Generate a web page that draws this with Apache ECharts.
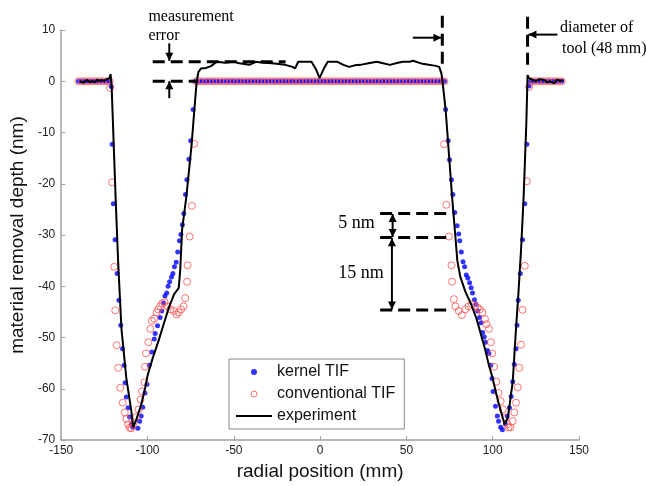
<!DOCTYPE html>
<html>
<head>
<meta charset="utf-8">
<script src="https://cdn.jsdelivr.net/npm/echarts@6/dist/echarts.min.js"></script>
<style>
  html, body { margin: 0; padding: 0; background: #fff; }
  #main { width: 646px; height: 486px; }
</style>
</head>
<body>
<div id="main"></div>
<script>
// flat parts (depth 0) where both simulations sit on the axis
var flatLeftX = [-140, -138, -136, -134, -132, -130, -128, -126, -124, -122];
var flatMidX = [-72, -70, -68, -66, -64, -62, -60, -58, -56, -54, -52, -50, -48, -46, -44, -42, -40, -38, -36, -34, -32, -30, -28, -26, -24, -22, -20, -18, -16, -14, -12, -10, -8, -6, -4, -2, 0,
  2, 4, 6, 8, 10, 12, 14, 16, 18, 20, 22, 24, 26, 28, 30, 32, 34, 36, 38, 40, 42, 44, 46, 48, 50, 52, 54, 56, 58, 60, 62, 64, 66, 68, 70, 72];
var flatRightX = [122, 124, 126, 128, 130, 132, 134, 136, 138, 140];

// kernel TIF inside the two grooves
var kernelV = [
  [-121, -1], [-120.5, -12.3], [-119.8, -23.9], [-118.8, -30.9], [-117.6, -37.5], [-116.6, -42.7], [-115.5, -47.6],
  [-114.5, -52.2], [-113.6, -55.4], [-113, -58.8], [-112.3, -61.6], [-111.3, -63.7], [-110.4, -65.5], [-109.4, -66.9],
  [-108.5, -67.5], [-105.6, -67.7], [-104.6, -66.3], [-103.7, -65.3], [-102.8, -63.6], [-101.5, -60.8], [-100.3, -59.1],
  [-99, -55.4], [-97.5, -52.8], [-96.1, -50.3], [-95.6, -49.2], [-94.2, -47.7], [-92.7, -46.1], [-91.8, -44.8],
  [-90.8, -43.3], [-89.9, -41.9], [-88.9, -41.3], [-88.1, -40], [-87.2, -39.1], [-86.1, -38.2], [-85.3, -37.5],
  [-84.4, -36.2], [-83.4, -35.3], [-82.5, -33.3], [-81.5, -31.1], [-80.7, -29.9], [-79.8, -28], [-79, -25.8],
  [-78, -22.1], [-77.2, -19.2], [-76, -15.2], [-75, -11.6], [-73.6, -5.5],
  [72.7, -5.5], [74.2, -11.6], [75, -15.3], [76.1, -19.2], [76.9, -22.1], [78, -25.6], [79.4, -28.2], [80.3, -29.8],
  [80.9, -31.1], [81.8, -33.3], [82.8, -35.2], [83.7, -36.2], [84.7, -37.8], [85.6, -38.4], [86.6, -39.3], [87.5, -40.3],
  [88.3, -41.3], [89.4, -42.6], [90.2, -43.5], [91.3, -44.8], [92.3, -46.1], [93.2, -47.1], [94.2, -49], [95.1, -49.9],
  [95.9, -50.9], [97, -52.5], [97.8, -53.1], [98.9, -55.4], [99.6, -58], [100.2, -60.5], [101.6, -63.4], [102.7, -65.3],
  [103.4, -66.3], [104.6, -67.5], [105.6, -68], [107.3, -66.8], [108.4, -65.3], [109.7, -63.7], [110.7, -61.5],
  [111.6, -58.6], [112.5, -55.2], [113.5, -52.2], [114.1, -47.6], [114.8, -42.7], [116, -37.5], [117.3, -30.9],
  [118.6, -23.9], [119.8, -12.3], [121.1, -0.9]
];

// conventional TIF inside the two grooves
var conventionalV = [
  [-121.7, -1.3], [-120.5, -19.7], [-119.3, -36.2], [-118.7, -44.7], [-117.9, -51.5], [-117, -55.9], [-115.8, -59.8],
  [-114.4, -62.7], [-113.2, -64.6], [-112.3, -65.9], [-111.3, -66.9], [-110.4, -67.6], [-109.4, -67.7], [-108.4, -66.9],
  [-106.6, -65.5], [-105.2, -64], [-104.1, -62.1], [-103.2, -60.5], [-101.8, -58.7], [-101.5, -55.7], [-100.9, -53.1],
  [-99.5, -50.9], [-98.4, -48.3], [-97.5, -46.7], [-96.1, -46.3], [-94.8, -45.1], [-93.8, -44.5], [-92.7, -43.9],
  [-91.4, -43.3], [-90.1, -43.1], [-88.5, -43.9], [-86.7, -44.5], [-84.7, -44.8], [-83.2, -45.5], [-81.9, -45.1],
  [-80.6, -44.5], [-79.1, -43.9], [-78.2, -42.3], [-77.1, -39.1], [-76.8, -35.9], [-75.6, -30.3], [-74.3, -24.3],
  [-73, -12.2],
  [71.8, -12.3], [73.1, -24.1], [74.6, -30.3], [76.1, -35.9], [76.5, -39.1], [77.5, -42.5], [78.4, -43.9], [80.3, -44.8],
  [82.2, -45.6], [84.1, -44.5], [86, -43.9], [87.9, -43.5], [89.8, -43.9], [91.3, -44.2], [92.6, -44.5], [94, -45.1],
  [95.5, -46.4], [96.4, -47.4], [97.8, -48.3], [98.9, -50.9], [99.7, -53.1], [100.8, -55.7], [102.1, -58.6],
  [103.4, -60.8], [104.6, -62.4], [105.9, -64], [107.3, -65.6], [108.4, -66.9], [109.2, -67.5], [110.3, -67.5],
  [111.6, -66.3], [112.5, -64.6], [113.5, -62.7], [114.5, -59.7], [115.4, -55.9], [116.4, -51.4], [117.3, -44.6],
  [118.6, -36], [119.8, -19.5], [121.1, -1.1]
];

// measured profile
var experiment = [
  [-139.2, 0], [-137, -0.3], [-135, 0.3], [-133.5, -0.2], [-132.2, 0], [-130.5, -0.2], [-129.3, 0.3], [-128, 0.1],
  [-126.5, 0.2], [-125, 0.1], [-123.6, 0.4], [-122.1, 0.6], [-121.4, 1.4], [-120.8, -1], [-118.5, -22.7], [-117, -35.5],
  [-115.1, -48.3], [-112.3, -57.9], [-109.4, -64.3], [-108.3, -67.5], [-106.5, -66], [-103.7, -63.1], [-101.5, -60],
  [-99.9, -57.3], [-97.1, -54.1], [-93.5, -50.5], [-90.4, -47.1], [-87.5, -44], [-84.7, -41.6], [-81.9, -40.3],
  [-81, -36.5], [-80, -29], [-77.5, -22.5], [-74.5, -12.5], [-72.5, -4], [-71.5, 0], [-70.5, 1.8], [-69, 2.5],
  [-66, 2.6], [-63, 3.0], [-60, 3.8], [-55, 3.6], [-50, 3.8], [-46.8, 3.5], [-41, 3.2], [-37.3, 3.8], [-33, 3.6],
  [-27.8, 3.5], [-20.2, 3.2], [-16, 2.8], [-14.5, 2.5], [-12.7, 3.8], [-5, 3.8], [-2.5, 2.4], [-0.3, 0.6], [2.2, 2.5],
  [4.4, 3.8], [10.1, 3.8], [13.5, 3.2], [16.8, 2.8], [20, 3.1], [23.4, 3.2], [28, 3.5], [32.9, 3.8], [36.5, 3.5],
  [40.5, 3.2], [45, 3.6], [48.1, 3.8], [51.9, 3.8], [53.8, 4.0], [59.4, 3.4], [63, 3.2], [67, 3.0], [69, 2.8],
  [70.3, 1.5], [70.8, 0.3], [72.7, -5.5], [73.7, -9.9], [76.5, -22.7], [78.4, -30.4], [79.5, -35], [81.2, -38.1],
  [84.1, -41], [87.5, -43.5], [90.7, -46.4], [95.5, -52.2], [97.8, -55.4], [99.7, -57.6], [103.1, -62.4],
  [106.9, -66.9], [108.8, -65.6], [111.6, -58.6], [113.5, -48.3], [114.8, -41.9], [116.4, -33], [117.9, -22.7],
  [119.5, -8], [120.2, 1.2], [121, 0.6], [123, 0.3], [125, 0], [127, 0.4], [129.6, 0.3], [131.5, -0.2], [133.4, 0],
  [135.5, -0.4], [137.2, 0.3], [139, 0.1], [141, 0.2]
];

var xTicks = [-150, 150, 50];   // min, max, step
var yTicks = [-70, 10, 10];

// annotations, in data units [x1, y1, x2, y2]
var dashedLines = [
  [-97, 3.8, -20, 3.8], [-97, 0, -72, 0],
  [70.8, 12.8, 70.8, 2.6], [120.2, 12.6, 120.2, 2.2],
  [34.8, -25.8, 76.5, -25.8], [34.8, -30.5, 76.5, -30.5], [34.8, -44.6, 76.5, -44.6]
];
var arrows = [[-87.4, 7.4, -87.4, 4.0], [-87.4, -3.3, -87.4, 0.0], [53.7, 8.5, 70.3, 8.5], [137.5, 9.1, 120.7, 9.1]];
var doubleArrows = [[42, -25.9, 42, -30.4], [41.6, -30.6, 41.6, -44.5]];
var notes = [
  ['measurement', -99.5, 12.5], ['error', -99.5, 8.85],
  ['diameter of', 139, 10.4], ['tool (48 mm)', 140.2, 6.4],
  ['5 nm', 10.5, -27.7], ['15 nm', 10.5, -37.5]
];

var flatX = flatLeftX.concat(flatMidX, flatRightX);
var kernelData = flatX.map(function (x) { return [x, 0]; }).concat(kernelV);
var conventionalData = flatX.map(function (x) { return [x, 0]; }).concat(conventionalV);

var chart = echarts.init(document.getElementById('main'));
var axisColor = '#a0a0a0';
chart.setOption({
  animation: false,
  backgroundColor: '#fff',
  grid: { left: 52, right: 67, top: 30, bottom: 40 },
  legend: {
    orient: 'vertical',
    left: 229,
    top: 359,
    padding: [5, 9, 5, 7],
    itemGap: 6,
    itemWidth: 36,
    itemHeight: 6,
    backgroundColor: '#fff',
    borderColor: '#888',
    borderWidth: 1,
    borderRadius: 0,
    textStyle: { fontFamily: 'Liberation Sans', fontSize: 16, color: '#111', lineHeight: 16 },
    data: [
      { name: 'kernel TIF', icon: 'circle' },
      { name: 'conventional TIF', icon: 'circle', itemStyle: { color: 'rgba(0,0,0,0)', borderColor: '#ff5050', borderWidth: 1 } },
      { name: 'experiment', icon: 'path://M0,0 L36,0 L36,2 L0,2 Z', itemStyle: { color: '#000' } }
    ]
  },
  xAxis: {
    type: 'value',
    min: xTicks[0], max: xTicks[1], interval: xTicks[2],
    name: 'radial position (mm)',
    nameLocation: 'middle',
    nameGap: 17,
    nameTextStyle: { fontFamily: 'Liberation Sans', fontSize: 19, color: '#111' },
    axisLine: { onZero: false, lineStyle: { color: axisColor, width: 1.5 } },
    axisTick: { inside: true, length: 4, lineStyle: { color: axisColor } },
    axisLabel: { fontFamily: 'Liberation Sans', fontSize: 12, color: '#222', margin: 5 },
    splitLine: { show: false }
  },
  yAxis: {
    type: 'value',
    min: yTicks[0], max: yTicks[1], interval: yTicks[2],
    name: 'material removal depth (nm)',
    nameLocation: 'middle',
    nameGap: 27,
    nameTextStyle: { fontFamily: 'Liberation Sans', fontSize: 19, color: '#111' },
    axisLine: { show: true, onZero: false, lineStyle: { color: axisColor, width: 1.5 } },
    axisTick: { show: true, inside: true, length: 4, lineStyle: { color: axisColor } },
    axisLabel: { fontFamily: 'Liberation Sans', fontSize: 12, color: '#222', margin: 6 },
    splitLine: { show: false }
  },
  series: [
    {
      name: 'kernel TIF',
      type: 'scatter',
      data: kernelData,
      symbol: 'circle',
      symbolSize: 5,
      itemStyle: { color: '#0000ff' },
      z: 2
    },
    {
      name: 'conventional TIF',
      type: 'scatter',
      data: conventionalData,
      symbol: 'circle',
      symbolSize: 7,
      itemStyle: { color: 'rgba(0,0,0,0)', borderColor: '#ff5050', borderWidth: 1 },
      z: 3
    },
    {
      name: 'experiment',
      type: 'line',
      data: experiment,
      showSymbol: false,
      symbol: 'none',
      lineStyle: { color: '#000', width: 2 },
      itemStyle: { color: '#000' },
      z: 4
    }
  ]
});

// annotations drawn through the grid's own scales
function px(x, y) { return chart.convertToPixel({ gridIndex: 0 }, [x, y]); }
function head(tip, from) {
  var dx = tip[0] - from[0], dy = tip[1] - from[1];
  var len = Math.sqrt(dx * dx + dy * dy) || 1;
  var ux = dx / len, uy = dy / len, L = 8, W = 4;
  return {
    type: 'polygon', silent: true, z: 100,
    shape: { points: [tip, [tip[0] - ux * L - uy * W, tip[1] - uy * L + ux * W], [tip[0] - ux * L + uy * W, tip[1] - uy * L - ux * W]] },
    style: { fill: '#000' }
  };
}
function seg(a, b, dash, w) {
  return {
    type: 'line', silent: true, z: 100,
    shape: { x1: a[0], y1: a[1], x2: b[0], y2: b[1] },
    style: { stroke: '#000', lineWidth: w, lineDash: dash }
  };
}

var graphics = [];
dashedLines.forEach(function (d) {
  graphics.push(seg(px(d[0], d[1]), px(d[2], d[3]), [12, 6], 3));
});
arrows.forEach(function (d) {
  var a = px(d[0], d[1]), b = px(d[2], d[3]);
  graphics.push(seg(a, b, null, 2));
  graphics.push(head(b, a));
});
doubleArrows.forEach(function (d) {
  var a = px(d[0], d[1]), b = px(d[2], d[3]);
  graphics.push(seg(a, b, null, 2));
  graphics.push(head(b, a));
  graphics.push(head(a, b));
});
notes.forEach(function (n, i) {
  var p = px(n[1], n[2]);
  graphics.push({
    type: 'text', silent: true, z: 100,
    x: p[0], y: p[1],
    style: {
      text: n[0],
      fontFamily: 'Liberation Serif',
      fontSize: i >= 4 ? 18 : 16,
      fill: '#000',
      align: 'left',
      verticalAlign: 'middle'
    }
  });
});
chart.setOption({ graphic: graphics });
</script>
</body>
</html>
